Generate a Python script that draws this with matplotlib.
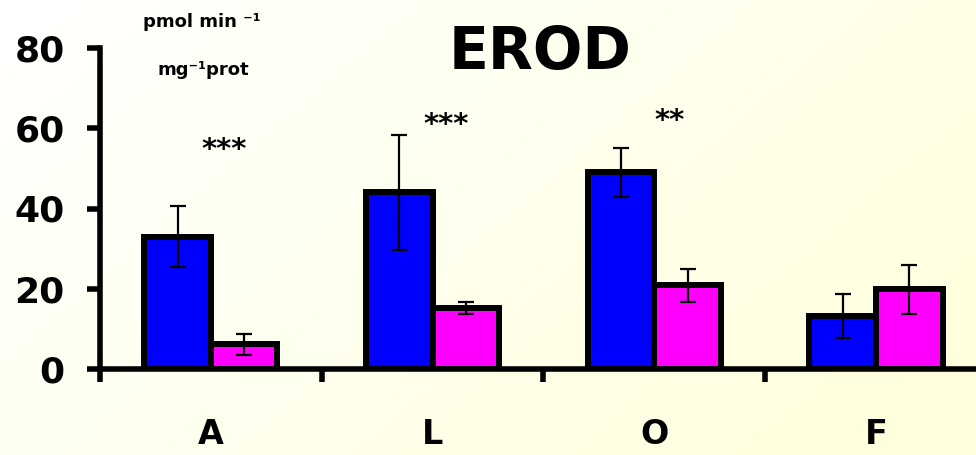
import numpy as np
import matplotlib
matplotlib.use("Agg")
import matplotlib.pyplot as plt

# data
groups = ["A", "L", "O", "F"]
blue_vals = [33, 44, 49, 13.2]
blue_err = [7.5, 14.4, 6.2, 5.5]
pink_vals = [6.2, 15.2, 20.9, 19.9]
pink_err = [2.6, 1.5, 4.1, 6.1]
stars = ["***", "***", "**", ""]
star_x = [0.06, 1.06, 2.07, 3.0]
star_y = [54.6, 60.8, 61.8, 0]

plt.rcParams["font.family"] = "DejaVu Sans"
plt.rcParams["font.weight"] = "bold"

fig = plt.figure(figsize=(9.76, 4.55), dpi=100)

# background gradient (white -> pale yellow)
bg = fig.add_axes([0, 0, 1, 1], zorder=-10)
gx, gy = np.meshgrid(np.linspace(0, 1, 200), np.linspace(0, 1, 100))
t = 0.65 * gx + 0.35 * gy
top = np.array([1.0, 1.0, 1.0])
bot = np.array([1.0, 1.0, 0.86])
img = top[None, None, :] * (1 - t[..., None]) + bot[None, None, :] * t[..., None]
bg.imshow(img, aspect="auto", extent=[0, 1, 1, 0], interpolation="bilinear")
bg.axis("off")

ax = fig.add_axes([100 / 976, 86 / 455, 876 / 976, 321 / 455])
ax.set_facecolor("none")

x = np.arange(len(groups))
w = 0.3
ax.bar(x - w / 2, blue_vals, w, color="#0000FF", edgecolor="black", linewidth=4.3, zorder=2)
ax.bar(x + w / 2, pink_vals, w, color="#FF00FF", edgecolor="black", linewidth=4.3, zorder=2)
ax.errorbar(x - w / 2, blue_vals, yerr=blue_err, fmt="none", ecolor="black",
            elinewidth=1.6, capsize=6, capthick=1.6, zorder=3)
ax.errorbar(x + w / 2, pink_vals, yerr=pink_err, fmt="none", ecolor="black",
            elinewidth=1.6, capsize=6, capthick=1.6, zorder=3)

for sx, sy, s in zip(star_x, star_y, stars):
    if s:
        ax.text(sx, sy, s, ha="center", va="center", fontsize=21, fontweight="bold")

ax.set_yticks([0, 20, 40, 60, 80])
ax.set_xticks(np.arange(-0.5, 3.0, 1.0))
ax.set_xticklabels([])
ax.set_xticks(x, minor=True)
ax.set_xticklabels(groups, minor=True, fontsize=24, fontweight="bold")
ax.set_xlim(-0.5, 3.451)
ax.set_ylim(0, 80)

for sp in ["top", "right"]:
    ax.spines[sp].set_visible(False)
for sp in ["left", "bottom"]:
    ax.spines[sp].set_linewidth(4.0)
ax.tick_params(axis="both", which="major", length=9.5, width=4.0, direction="out")
ax.tick_params(axis="y", labelsize=26, pad=16)
ax.tick_params(axis="x", which="minor", length=0, pad=35)
for lab in ax.get_yticklabels():
    lab.set_fontweight("bold")

fig.text(540 / 976, 1 - 52 / 455, "EROD", ha="center", va="center",
         fontsize=42, fontweight="bold")
fig.text(202 / 976, 1 - 22 / 455, "pmol min \u207b\u00b9", ha="center", va="center",
         fontsize=13, fontweight="bold")
fig.text(203 / 976, 1 - 70 / 455, "mg\u207b\u00b9prot", ha="center", va="center",
         fontsize=13, fontweight="bold")

fig.savefig("out.png", dpi=100)
